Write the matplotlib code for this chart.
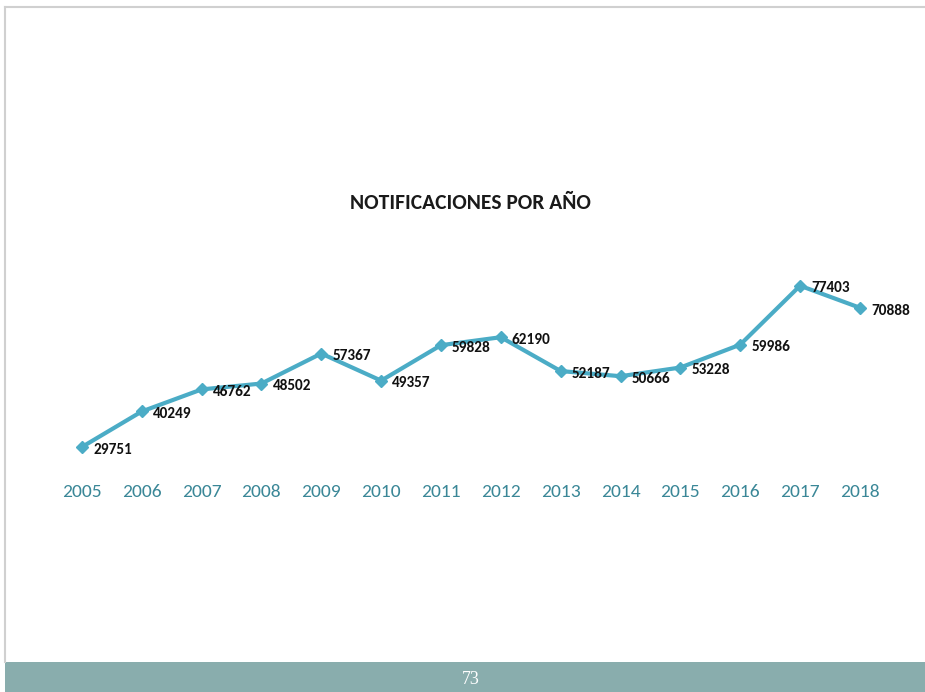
import matplotlib
matplotlib.use("Agg")
import matplotlib.pyplot as plt
from matplotlib.lines import Line2D
from matplotlib.patches import Rectangle

# datos del grafico
years = ["2005", "2006", "2007", "2008", "2009", "2010", "2011",
         "2012", "2013", "2014", "2015", "2016", "2017", "2018"]
notificaciones = [29751, 40249, 46762, 48502, 57367, 49357, 59828,
                  62190, 52187, 50666, 53228, 59986, 77403, 70888]

title = "NOTIFICACIONES POR AÑO"
page_number = "73"

line_color = "#4bacc6"
tick_color = "#3a8797"
fuente = ["Carlito", "DejaVu Sans"]

W, H = 925, 692
fig = plt.figure(figsize=(W / 100, H / 100), dpi=100)
fig.patch.set_facecolor("white")

# marco tipo diapositiva
fig.add_artist(Line2D([5 / W, 1], [1 - 7 / H, 1 - 7 / H], color="#d0d0d0", lw=1.5))
fig.add_artist(Line2D([5 / W, 5 / W], [30 / H, 1 - 7 / H], color="#d0d0d0", lw=1.5))
fig.add_artist(Rectangle((5 / W, 0), 1 - 5 / W, 30 / H, color="#89adad", lw=0))
fig.text(471 / W, 13 / H, page_number, color="white", family="Liberation Serif",
         fontsize=13, ha="center", va="center")

# ejes
ax = fig.add_axes([40 / W, 1 - 480 / H, 860 / W, 220 / H])
x = list(range(len(years)))
ax.plot(x, notificaciones, color=line_color, lw=3, marker="D",
        markersize=6, markerfacecolor=line_color, markeredgecolor=line_color)

for xi, v in zip(x, notificaciones):
    ax.annotate(str(v), (xi, v), xytext=(8, -2), textcoords="offset points",
                ha="left", va="center", fontsize=11, fontweight="bold",
                family=fuente, color="#111111")

ax.set_xlim(-0.70, 13.67)
ax.set_ylim(20000, 85000)
ax.set_xticks(x)
ax.set_xticklabels(years, family=fuente, fontsize=14, color=tick_color)
ax.tick_params(axis="x", length=0, pad=3)
ax.set_yticks([])
for s in ax.spines.values():
    s.set_visible(False)
ax.patch.set_alpha(0)

fig.text(470 / W, 1 - 203 / H, title, ha="center", va="center",
         fontsize=15.5, fontweight="bold", family=fuente, color="#1a1a1a")

fig.savefig("out.png", dpi=100)
